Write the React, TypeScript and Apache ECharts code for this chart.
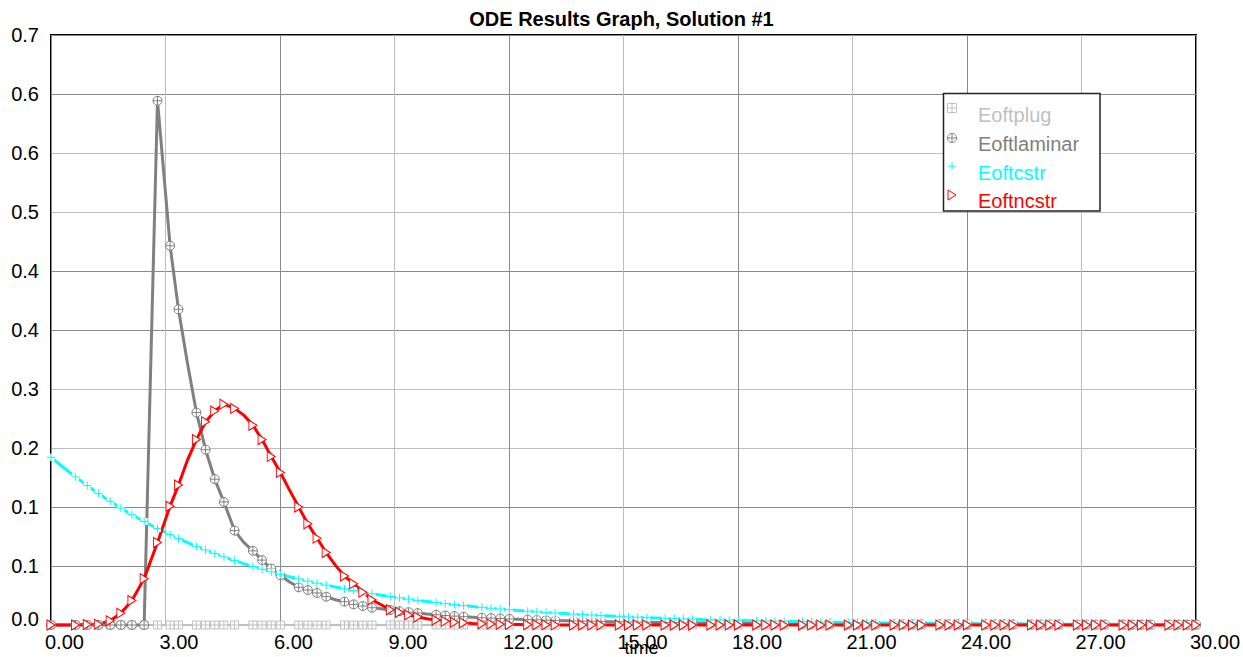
import React, { useEffect, useRef } from "react";
import * as echarts from "echarts";

// ---- data ----
const time = [
  0, 0.32, 0.64, 0.95, 1.24, 1.55, 1.83, 2.12, 2.44, 2.79,
  3.12, 3.34, 3.57, 3.81, 4.05, 4.29, 4.53, 4.81, 5.05, 5.29,
  5.53, 5.77, 6.01, 6.25, 6.49, 6.73, 6.97, 7.21, 7.45, 7.69,
  7.93, 8.17, 8.41, 8.65, 8.89, 9.13, 9.37, 9.61, 9.85, 10.09,
  10.33, 10.57, 10.81, 11.05, 11.29, 11.53, 11.77, 12.01, 12.25, 12.49,
  12.73, 12.97, 13.21, 13.45, 13.69, 13.93, 14.17, 14.41, 14.65, 14.89,
  15.13, 15.37, 15.61, 15.85, 16.09, 16.33, 16.57, 16.81, 17.05, 17.29,
  17.53, 17.77, 18.01, 18.25, 18.49, 18.73, 18.97, 19.21, 19.45, 19.69,
  19.93, 20.17, 20.41, 20.65, 20.89, 21.13, 21.37, 21.61, 21.85, 22.09,
  22.33, 22.57, 22.81, 23.05, 23.29, 23.53, 23.77, 24.01, 24.25, 24.49,
  24.73, 24.97, 25.21, 25.45, 25.69, 25.93, 26.17, 26.41, 26.65, 26.89,
  27.13, 27.37, 27.61, 27.85, 28.09, 28.33, 28.57, 28.81, 29.05, 29.29,
  29.53, 29.77, 30,
];

const eoftplug = [
  0, 0, 0, 0, 0, 0, 0, 0, 0, 0,
  0, 0, 0, 0, 0, 0, 0, 0, 0, 0,
  0, 0, 0, 0, 0, 0, 0, 0, 0, 0,
  0, 0, 0, 0, 0, 0, 0, 0, 0, 0,
  0, 0, 0, 0, 0, 0, 0, 0, 0, 0,
  0, 0, 0, 0, 0, 0, 0, 0, 0, 0,
  0, 0, 0, 0, 0, 0, 0, 0, 0, 0,
  0, 0, 0, 0, 0, 0, 0, 0, 0, 0,
  0, 0, 0, 0, 0, 0, 0, 0, 0, 0,
  0, 0, 0, 0, 0, 0, 0, 0, 0, 0,
  0, 0, 0, 0, 0, 0, 0, 0, 0, 0,
  0, 0, 0, 0, 0, 0, 0, 0, 0, 0,
  0, 0, 0,
];

const eoftlaminar = [
  0, 0, 0, 0, 0, 0, 0, 0, 0, 0.622,
  0.45, 0.3745, 0.312, 0.252, 0.208, 0.173, 0.146, 0.112, 0.098, 0.088,
  0.077, 0.067, 0.059, 0.051, 0.0447, 0.0415, 0.038, 0.0336, 0.03, 0.0277,
  0.0245, 0.0225, 0.0205, 0.0193, 0.0178, 0.0164, 0.0152, 0.0141, 0.0131, 0.0122,
  0.0113, 0.0106, 0.0099, 0.0093, 0.0087, 0.0082, 0.0077, 0.0072, 0.0068, 0.0064,
  0.0061, 0.0057, 0.0054, 0.0051, 0.0049, 0.0046, 0.0044, 0.0042, 0.004, 0.0038,
  0.0036, 0.0034, 0.0033, 0.0031, 0.003, 0.0029, 0.0027, 0.0026, 0.0025, 0.0024,
  0.0023, 0.0022, 0.0021, 0.0021, 0.002, 0.0019, 0.0018, 0.0018, 0.0017, 0.0016,
  0.0016, 0.0015, 0.0015, 0.0014, 0.0014, 0.0013, 0.0013, 0.0012, 0.0012, 0.0012,
  0.0011, 0.0011, 0.0011, 0.001, 0.001, 0.001, 0.0009, 0.0009, 0.0009, 0.0009,
  0.0008, 0.0008, 0.0008, 0.0008, 0.0007, 0.0007, 0.0007, 0.0007, 0.0007, 0.0006,
  0.0006, 0.0006, 0.0006, 0.0006, 0.0006, 0.0005, 0.0005, 0.0005, 0.0005, 0.0005,
  0.0005, 0.0005, 0.0005,
];

const eoftcstr = [
  0.199, 0.1872, 0.1757, 0.1654, 0.1561, 0.1467, 0.1387, 0.1309, 0.1228, 0.1145,
  0.1072, 0.1025, 0.0979, 0.0933, 0.089, 0.0848, 0.0808, 0.0764, 0.0728, 0.0694,
  0.0661, 0.063, 0.0601, 0.0573, 0.0546, 0.052, 0.0496, 0.0473, 0.045, 0.0429,
  0.0409, 0.039, 0.0372, 0.0354, 0.0338, 0.0322, 0.0307, 0.0292, 0.0279, 0.0266,
  0.0253, 0.0241, 0.023, 0.0219, 0.0209, 0.0199, 0.019, 0.0181, 0.0172, 0.0164,
  0.0157, 0.0149, 0.0142, 0.0136, 0.0129, 0.0123, 0.0118, 0.0112, 0.0107, 0.0102,
  0.0097, 0.0093, 0.0088, 0.0084, 0.008, 0.0077, 0.0073, 0.007, 0.0066, 0.0063,
  0.006, 0.0058, 0.0055, 0.0052, 0.005, 0.0048, 0.0045, 0.0043, 0.0041, 0.0039,
  0.0037, 0.0035, 0.0034, 0.0032, 0.0031, 0.0029, 0.0028, 0.0027, 0.0025, 0.0024,
  0.0023, 0.0022, 0.0021, 0.002, 0.0019, 0.0018, 0.0017, 0.0016, 0.0016, 0.0015,
  0.0014, 0.0014, 0.0013, 0.0012, 0.0012, 0.0011, 0.0011, 0.001, 0.001, 0.0009,
  0.0009, 0.0008, 0.0008, 0.0008, 0.0007, 0.0007, 0.0006, 0.0006, 0.0006, 0.0006,
  0.0005, 0.0005, 0.0005,
];

const eoftncstr = [
  0, 0, 0, 0.0005, 0.001, 0.005, 0.014, 0.029, 0.055, 0.098,
  0.141, 0.166, 0.195, 0.22, 0.241, 0.254, 0.262, 0.257, 0.249, 0.237,
  0.22, 0.2, 0.181, 0.16, 0.14, 0.12, 0.103, 0.086, 0.071, 0.058,
  0.049, 0.039, 0.03, 0.024, 0.018, 0.015, 0.012, 0.0095, 0.0075, 0.0058,
  0.0045, 0.0034, 0.0026, 0.0019, 0.0015, 0.0011, 0.0008, 0.0006, 0.0005, 0.0003,
  0.0002, 0.0002, 0.0001, 0, 0, 0, 0, 0, 0, 0,
  0, 0, 0, 0, 0, 0, 0, 0, 0, 0,
  0, 0, 0, 0, 0, 0, 0, 0, 0, 0,
  0, 0, 0, 0, 0, 0, 0, 0, 0, 0,
  0, 0, 0, 0, 0, 0, 0, 0, 0, 0,
  0, 0, 0, 0, 0, 0, 0, 0, 0, 0,
  0, 0, 0, 0, 0, 0, 0, 0, 0, 0,
  0, 0, 0,
];

// output points drawn without a marker (indices into time)
const unmarkedPoints = [
  1, 12, 18, 23, 28, 33, 38, 43, 48, 53, 58, 63, 68, 73, 78, 83, 88, 93, 98,
  103, 108, 113, 118,
];

const yTickLabels = ["0.0", "0.1", "0.1", "0.2", "0.3", "0.4", "0.4", "0.5", "0.6", "0.6", "0.7"];

const seriesNames = ["Eoftplug", "Eoftlaminar", "Eoftcstr", "Eoftncstr"];
const seriesColors = ["#c0c0c0", "#808080", "#00ffff", "#ff0000"];

// ---- styling ----
const FONT = '"Liberation Sans", Arial, Helvetica, sans-serif';
const SYM_PLUG = "path://M0,0H10V10H0Z M5,0V10 M0,5H10";
const SYM_LAM = "path://M10,5A5,5,0,1,1,0,5A5,5,0,1,1,10,5Z M5,0V10 M0,5H10";
const SYM_PLUS = "path://M5,0V10 M0,5H10";
const SYM_TRI = "path://M0,0L10,5L0,10Z";

const hidden = new Set(unmarkedPoints);

function build(values: number[]) {
  return time.map((t, i) =>
    hidden.has(i) ? { value: [t, values[i]], symbol: "none" } : { value: [t, values[i]] }
  );
}

function legendGraphics() {
  const items: any[] = [];
  const Z = 100;
  items.push({
    type: "rect",
    z: Z,
    shape: { x: 943.5, y: 93.5, width: 156.5, height: 117.5 },
    style: { fill: "#fff", stroke: "#222", lineWidth: 1.5 },
  });
  const mx = 952;
  const rowsMarker = [108, 138, 166, 195];
  const rowsText = [115, 144, 172.5, 201];
  items.push({
    type: "rect", z: Z + 1,
    shape: { x: mx - 4.5, y: rowsMarker[0] - 4.5, width: 9, height: 9 },
    style: { fill: "#fff", stroke: seriesColors[0], lineWidth: 1 },
  });
  items.push({ type: "line", z: Z + 2, shape: { x1: mx, y1: rowsMarker[0] - 4.5, x2: mx, y2: rowsMarker[0] + 4.5 }, style: { stroke: seriesColors[0], lineWidth: 1 } });
  items.push({ type: "line", z: Z + 2, shape: { x1: mx - 4.5, y1: rowsMarker[0], x2: mx + 4.5, y2: rowsMarker[0] }, style: { stroke: seriesColors[0], lineWidth: 1 } });
  items.push({
    type: "circle", z: Z + 1,
    shape: { cx: mx, cy: rowsMarker[1], r: 4.5 },
    style: { fill: "#fff", stroke: seriesColors[1], lineWidth: 1 },
  });
  items.push({ type: "line", z: Z + 2, shape: { x1: mx, y1: rowsMarker[1] - 4.5, x2: mx, y2: rowsMarker[1] + 4.5 }, style: { stroke: seriesColors[1], lineWidth: 1 } });
  items.push({ type: "line", z: Z + 2, shape: { x1: mx - 4.5, y1: rowsMarker[1], x2: mx + 4.5, y2: rowsMarker[1] }, style: { stroke: seriesColors[1], lineWidth: 1 } });
  items.push({ type: "line", z: Z + 2, shape: { x1: mx, y1: rowsMarker[2] - 4, x2: mx, y2: rowsMarker[2] + 4 }, style: { stroke: seriesColors[2], lineWidth: 1 } });
  items.push({ type: "line", z: Z + 2, shape: { x1: mx - 4, y1: rowsMarker[2], x2: mx + 4, y2: rowsMarker[2] }, style: { stroke: seriesColors[2], lineWidth: 1 } });
  items.push({
    type: "polygon", z: Z + 1,
    shape: { points: [[mx - 4, rowsMarker[3] - 5], [mx + 4, rowsMarker[3]], [mx - 4, rowsMarker[3] + 5]] },
    style: { fill: "#fff", stroke: seriesColors[3], lineWidth: 1 },
  });
  seriesNames.forEach((n, i) => {
    items.push({
      type: "text",
      z: Z + 2,
      x: 978,
      y: rowsText[i],
      style: {
        text: n,
        fill: seriesColors[i],
        fontSize: 20,
        fontFamily: FONT,
        align: "left",
        verticalAlign: "middle",
      },
    });
  });
  return items;
}

export default function App() {
  const ref = useRef<HTMLDivElement>(null);

  useEffect(() => {
    if (!ref.current) return;
    const chart = echarts.init(ref.current, undefined, { renderer: "svg" });
    const common = {
      type: "line",
      showAllSymbol: true,
      clip: false,
      animation: false,
      emphasis: { disabled: true },
      silent: true,
    };
    chart.setOption({
      animation: false,
      backgroundColor: "#ffffff",
      title: {
        text: "ODE Results Graph, Solution #1",
        left: "center",
        top: 4,
        textStyle: { fontSize: 20, fontWeight: "bold", color: "#000", fontFamily: FONT },
      },
      grid: {
        left: 51,
        top: 35,
        right: 47,
        bottom: 32,
        show: true,
        backgroundColor: "#fff",
        borderColor: "#000",
        borderWidth: 2,
        containLabel: false,
        outerBoundsMode: "none",
      },
      xAxis: {
        type: "value",
        min: 0,
        max: 30,
        interval: 3,
        axisLine: { show: false },
        axisTick: { show: false },
        splitLine: { show: true, lineStyle: { color: ["#8a8a8a", "#bdbdbd"], width: 1 } },
        axisLabel: {
          formatter: (v: number) => v.toFixed(2),
          fontSize: 20,
          color: "#000",
          fontFamily: FONT,
          align: "left",
          padding: [0, 0, 0, -6],
          margin: 7,
        },
        name: "time",
        nameLocation: "middle",
        nameGap: 14,
        nameMoveOverlap: false,
        nameTextStyle: {
          fontSize: 18,
          color: "#000",
          fontFamily: FONT,
          verticalAlign: "top",
          padding: [0, 0, 0, 36],
        },
      },
      yAxis: {
        type: "value",
        min: 0,
        max: 0.7,
        interval: 0.07,
        axisLine: { show: false },
        axisTick: { show: false },
        splitLine: {
          show: true,
          lineStyle: { color: ["#bdbdbd", "#8a8a8a", "#8a8a8a", "#bdbdbd"], width: 1 },
        },
        axisLabel: {
          formatter: (v: number) => {
            const i = Math.round(v / 0.07);
            const s = yTickLabels[i] ?? "";
            return i === 0 ? "{z|" + s + "}" : s;
          },
          fontSize: 20,
          color: "#000",
          fontFamily: FONT,
          margin: 12,
          rich: {
            z: { fontSize: 20, color: "#000", fontFamily: FONT, padding: [0, 0, 12, 0] },
          },
        },
      },
      graphic: legendGraphics(),
      series: [
        {
          ...common,
          name: seriesNames[0],
          data: build(eoftplug),
          symbol: SYM_PLUG,
          symbolSize: 8,
          lineStyle: { color: seriesColors[0], width: 2 },
          itemStyle: { color: "#fff", borderColor: seriesColors[0], borderWidth: 1 },
        },
        {
          ...common,
          name: seriesNames[1],
          data: build(eoftlaminar),
          symbol: SYM_LAM,
          symbolSize: 9,
          lineStyle: { color: seriesColors[1], width: 3 },
          itemStyle: { color: "#fff", borderColor: seriesColors[1], borderWidth: 1 },
        },
        {
          ...common,
          name: seriesNames[2],
          data: build(eoftcstr),
          symbol: "rect",
          symbolSize: 7,
          lineStyle: { color: seriesColors[2], width: 3 },
          itemStyle: { color: "#fff", borderWidth: 0 },
        },
        {
          ...common,
          name: seriesNames[2] + " markers",
          data: build(eoftcstr),
          symbol: SYM_PLUS,
          symbolSize: 8,
          lineStyle: { width: 0, opacity: 0 },
          itemStyle: { color: "rgba(0,0,0,0)", borderColor: seriesColors[2], borderWidth: 1 },
        },
        {
          ...common,
          name: seriesNames[3],
          data: build(eoftncstr),
          symbol: SYM_TRI,
          symbolSize: [8, 10],
          lineStyle: { color: seriesColors[3], width: 3 },
          itemStyle: { color: "#fff", borderColor: seriesColors[3], borderWidth: 1 },
        },
      ],
    });
    return () => chart.dispose();
  }, []);

  return (
    <div
      ref={ref}
      style={{ position: "fixed", left: 0, top: 0, width: 1243, height: 657, background: "#fff" }}
    />
  );
}
